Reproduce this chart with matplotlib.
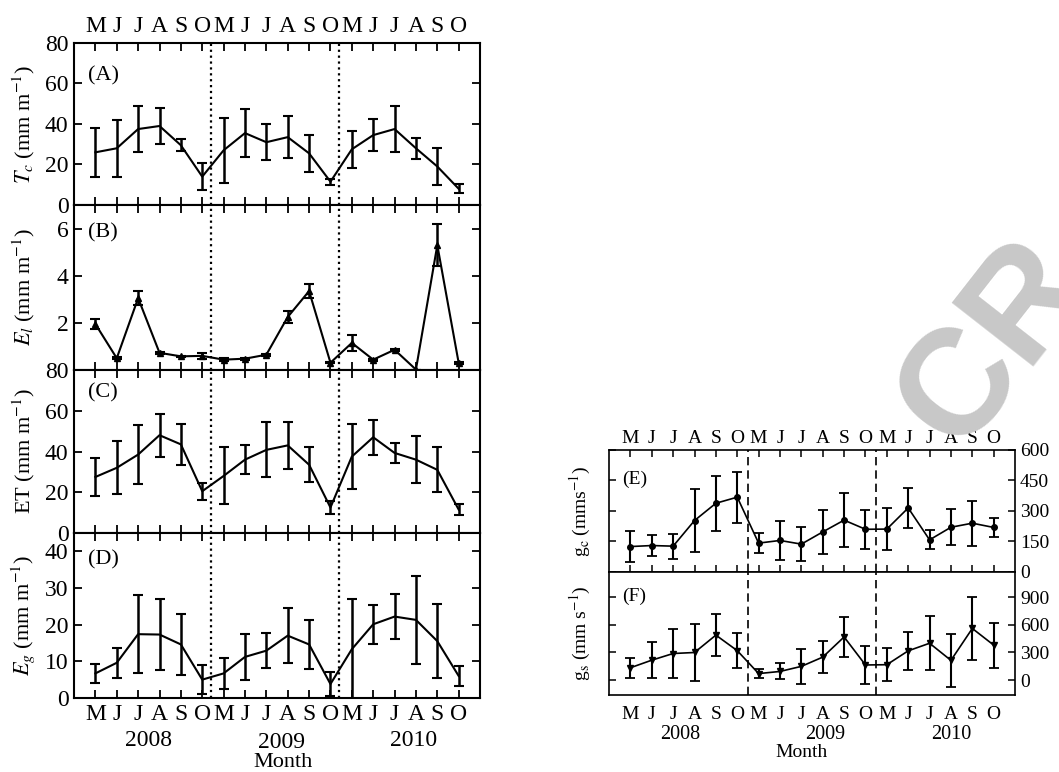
import matplotlib
matplotlib.use("Agg")
import matplotlib.pyplot as plt
import numpy as np

plt.rcParams['font.family'] = ['Liberation Serif', 'DejaVu Serif']
plt.rcParams['mathtext.fontset'] = 'stix'

# month axis: May..Oct for 2008, 2009, 2010
months = ['M', 'J', 'J', 'A', 'S', 'O'] * 3
years = ['2008', '2009', '2010']

# (A) canopy transpiration
tc = [26, 28, 37.5, 39, 29.5, 14, 27, 35.5, 31, 33.5, 25.5, 11.5, 27.5, 34.5, 37.5, 28, 19, 8]
tc_err = [12, 14, 11.5, 8.7, 3, 6.5, 16, 11.7, 9, 10.5, 9, 1.5, 9, 8, 11.5, 5.3, 9, 2.3]
# (B) interception
el = [1.95, 0.5, 3.05, 0.73, 0.58, 0.6, 0.44, 0.48, 0.65, 2.25, 3.35, 0.31, 1.15, 0.44, 0.86, 0.02, 5.3, 0.3]
el_err = [0.2, 0.05, 0.3, 0.05, 0.03, 0.12, 0.05, 0.04, 0.04, 0.25, 0.3, 0.03, 0.35, 0.04, 0.05, 0.0, 0.9, 0.05]
# (C) evapotranspiration
et = [27.5, 32, 38.5, 48, 43.5, 20.5, 28, 36, 40.8, 43, 33.5, 12.5, 37.5, 47, 39.3, 36, 31, 11.5]
et_err = [9.5, 13, 14.5, 10.5, 10, 4.2, 14, 7, 13.5, 11.5, 8.5, 3, 16, 8.7, 5, 11.5, 11, 2.5]
# (D) soil evaporation
eg = [6.7, 9.6, 17.4, 17.3, 14.6, 5, 6.7, 11.2, 12.9, 17, 14.6, 3.8, 13.3, 20.1, 22.2, 21.3, 15.5, 6]
eg_err = [2.7, 4.1, 10.7, 9.7, 8.3, 4, 4.3, 6.3, 4.7, 7.5, 6.6, 3.2, 13.6, 5.3, 6.1, 12, 10, 2.6]
# (E) canopy conductance
gc = [125, 130, 127, 253, 338, 368, 142, 155, 137, 197, 255, 210, 211, 315, 158, 220, 240, 219]
gc_err = [75, 53, 62, 153, 135, 125, 48, 95, 85, 110, 133, 95, 102, 100, 47, 89, 110, 45]
# (F) stomatal conductance
gs = [135, 217, 289, 300, 488, 320, 72, 95, 150, 250, 468, 165, 168, 318, 400, 215, 560, 380]
gs_err = [110, 192, 264, 310, 224, 186, 47, 87, 186, 175, 213, 205, 177, 208, 290, 285, 344, 244]

x = np.arange(len(months))

fig = plt.figure(figsize=(10.59, 7.72), dpi=100)

# watermark fragment on the right edge
fig.text(0.94, 0.555, 'CR', rotation=52, color='#c8c8c8', fontsize=108,
         fontweight='bold', family='Liberation Sans', ha='center', va='center')

left = [0.0699, 0.3834]
boxes = [(0.7345, 0.2098), (0.5207, 0.2137), (0.3096, 0.2111), (0.0959, 0.2137)]
series = [(tc, tc_err), (el, el_err), (et, et_err), (eg, eg_err)]
ylabels = [r'$T_c$ (mm m$^{-1}$)', r'$E_l$ (mm m$^{-1}$)', r'ET (mm m$^{-1}$)', r'$E_g$ (mm m$^{-1}$)']
ylims = [(0, 80), (0, 7), (0, 80), (0, 45)]
yticks = [[0, 20, 40, 60, 80], [2, 4, 6], [0, 20, 40, 60, 80], [0, 10, 20, 30, 40]]
tags = ['(A)', '(B)', '(C)', '(D)']
tag_y = [0.80, 0.83, 0.86, 0.84]

for k in range(4):
    ax = fig.add_axes([left[0], boxes[k][0], left[1], boxes[k][1]])
    y, e = series[k]
    ax.errorbar(x, y, yerr=e, color='k', lw=1.5, elinewidth=1.8,
                capsize=3.5, capthick=1.5,
                marker='^' if k == 1 else None, ms=4)
    for xv in (5.4, 11.4):
        ax.axvline(xv, color='k', ls=':', lw=1.6)
    ax.set_xlim(-1, 18)
    ax.set_ylim(*ylims[k])
    ax.set_yticks(yticks[k])
    ax.set_xticks(x)
    ax.set_xticklabels(months)
    ax.tick_params(direction='in', top=True, right=True, length=6, width=1.3,
                   labelsize=17, labelbottom=(k == 3), labeltop=(k == 0), pad=4)
    for s in ax.spines.values():
        s.set_linewidth(1.5)
    ax.set_ylabel(ylabels[k], fontsize=16)
    ax.yaxis.set_label_coords(-0.09, 0.5)
    ax.text(0.035, tag_y[k], tags[k], transform=ax.transAxes, fontsize=16,
            ha='left', va='center')
    if k == 3:
        tr = ax.get_xaxis_transform()
        for yr, xp, yp in zip(years, [2.5, 8.7, 14.9], [-0.255, -0.27, -0.26]):
            ax.text(xp, yp, yr, transform=tr, ha='center', va='center', fontsize=17)
        ax.text(8.8, -0.39, 'Month', transform=tr, ha='center', va='center', fontsize=16)

# right-hand panels (E) and (F)
rleft = [0.5751, 0.3834]
rboxes = [(0.2591, 0.158), (0.0997, 0.1593)]
rseries = [(gc, gc_err, 'o', 4), (gs, gs_err, 'v', 5)]
rlabels = [r'g$_\mathrm{c}$ (mms$^{-1}$)', r'g$_\mathrm{s}$ (mm s$^{-1}$)']
rlims = [(0, 600), (-160, 1170)]
rticks = [[0, 150, 300, 450, 600], [0, 300, 600, 900]]
rtags = ['(E)', '(F)']
rtag_y = [0.76, 0.80]

for k in range(2):
    ax = fig.add_axes([rleft[0], rboxes[k][0], rleft[1], rboxes[k][1]])
    y, e, mk, ms = rseries[k]
    ax.errorbar(x, y, yerr=e, color='k', lw=1.2, elinewidth=1.5,
                capsize=3.5, capthick=1.3, marker=mk, ms=ms)
    for xv in (5.5, 11.5):
        ax.axvline(xv, color='k', ls=(0, (5, 3)), lw=1.2)
    ax.set_xlim(-1, 18)
    ax.set_ylim(*rlims[k])
    ax.set_yticks(rticks[k])
    ax.set_xticks(x)
    ax.set_xticklabels(months)
    ax.yaxis.tick_right()
    ax.tick_params(axis='y', direction='in', left=True, right=True, length=5,
                   width=1.1, labelsize=14, labelleft=False, labelright=True)
    if k == 0:
        ax.tick_params(axis='x', direction='in', top=True, bottom=True, length=5,
                       width=1.1, labelsize=14, labeltop=True, labelbottom=False, pad=2)
    else:
        ax.tick_params(axis='x', length=0, labelsize=14, pad=8)
    for s in ax.spines.values():
        s.set_linewidth(1.2)
    ax.set_ylabel(rlabels[k], fontsize=14)
    ax.yaxis.set_label_position('left')
    ax.yaxis.set_label_coords(-0.04, 0.5)
    ax.text(0.032, rtag_y[k], rtags[k], transform=ax.transAxes, fontsize=14,
            ha='left', va='center')
    if k == 1:
        tr = ax.get_xaxis_transform()
        for yr, xp in zip(years, [2.35, 9.1, 15.0]):
            ax.text(xp, -0.32, yr, transform=tr, ha='center', va='center', fontsize=14.5)
        ax.text(8.0, -0.47, 'Month', transform=tr, ha='center', va='center', fontsize=14)

fig.savefig('out.png', dpi=100)
